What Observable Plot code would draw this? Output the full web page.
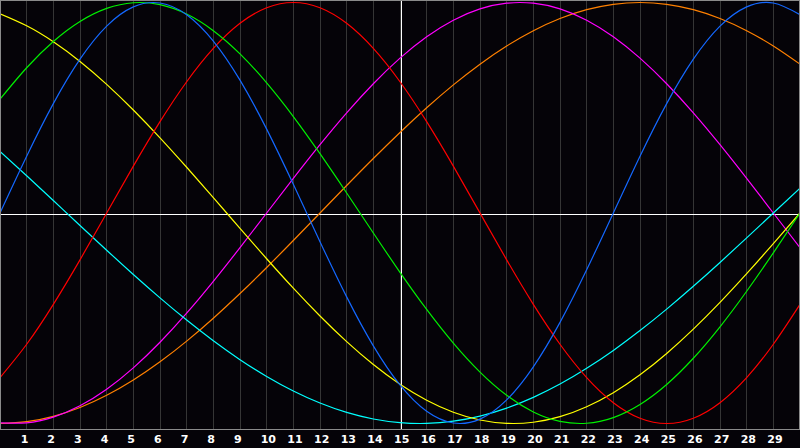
<!DOCTYPE html>
<html>
<head>
<meta charset="utf-8">
<script src="https://cdn.jsdelivr.net/npm/d3@7"></script>
<script src="https://cdn.jsdelivr.net/npm/@observablehq/plot@0.6"></script>
<style>
  html, body { margin: 0; padding: 0; background: #050308; }
  #chart svg { display: block; }
</style>
</head>
<body>
<div id="chart"></div>
<script>
// Day index (0..30) across the chart
const days = [0,1,2,3,4,5,6,7,8,9,10,11,12,13,14,15,16,17,18,19,20,21,22,23,24,25,26,27,28,29,30];
// Tick labels along the bottom
const tickLabels = [1,2,3,4,5,6,7,8,9,10,11,12,13,14,15,16,17,18,19,20,21,22,23,24,25,26,27,28,29];

// Series values (range -1..1), one value per day
const physicalValues = [0,0.2698,0.5196,0.7308,0.8879,0.9791,0.9977,0.9423,0.8170,0.6310,0.3984,0.1362,-0.1362,-0.3984,-0.6310,-0.8170,-0.9423,-0.9977,-0.9791,-0.8879,-0.7308,-0.5196,-0.2698,0,0.2698,0.5196,0.7308,0.8879,0.9791,0.9977,0.9423];
const emotionalValues = [-0.7818,-0.6235,-0.4339,-0.2225,0,0.2225,0.4339,0.6235,0.7818,0.9010,0.9749,1,0.9749,0.9010,0.7818,0.6235,0.4339,0.2225,0,-0.2225,-0.4339,-0.6235,-0.7818,-0.9010,-0.9749,-1,-0.9749,-0.9010,-0.7818,-0.6235,-0.4339];
const intellectualValues = [0.5406,0.6901,0.8146,0.9096,0.9718,0.9989,0.9898,0.9450,0.8660,0.7557,0.6182,0.4582,0.2817,0.0951,-0.0951,-0.2817,-0.4582,-0.6182,-0.7557,-0.8660,-0.9450,-0.9898,-0.9989,-0.9718,-0.9096,-0.8146,-0.6901,-0.5406,-0.3717,-0.1893,0];
const aestheticValues = [0.9464,0.8893,0.8135,0.7200,0.6112,0.4894,0.3572,0.2174,0.0730,-0.0730,-0.2174,-0.3572,-0.4894,-0.6112,-0.7200,-0.8135,-0.8893,-0.9464,-0.9834,-0.9993,-0.9940,-0.9675,-0.9204,-0.8536,-0.7685,-0.6671,-0.5517,-0.4245,-0.2881,-0.1456,0];
const spiritualValues = [0.2920,0.1769,0.0592,-0.0592,-0.1769,-0.2920,-0.4031,-0.5085,-0.6068,-0.6966,-0.7765,-0.8456,-0.9028,-0.9473,-0.9786,-0.9960,-0.9996,-0.9890,-0.9646,-0.9267,-0.8757,-0.8127,-0.7378,-0.6528,-0.5585,-0.4566,-0.3482,-0.2349,-0.1183,0,0.1183];
const intuitiveValues = [-0.9966,-0.9966,-0.9694,-0.9158,-0.8372,-0.7357,-0.6142,-0.4759,-0.3247,-0.1646,0,0.1646,0.3247,0.4759,0.6142,0.7357,0.8372,0.9158,0.9694,0.9966,0.9966,0.9694,0.9158,0.8372,0.7357,0.6142,0.4759,0.3247,0.1646,0,-0.1646];
const awarenessValues = [-1,-0.9914,-0.9659,-0.9239,-0.8660,-0.7934,-0.7071,-0.6088,-0.5,-0.3827,-0.2588,-0.1305,0,0.1305,0.2588,0.3827,0.5,0.6088,0.7071,0.7934,0.8660,0.9239,0.9659,0.9914,1,0.9914,0.9659,0.9239,0.8660,0.7934,0.7071];

const seriesNames = ["Awareness","Intuitive","Spiritual","Aesthetic","Emotional","Intellectual","Physical"];
const seriesValues = [awarenessValues, intuitiveValues, spiritualValues, aestheticValues, emotionalValues, intellectualValues, physicalValues];
const seriesColors = ["#ff8000","#ff00ff","#00ffff","#ffff00","#ff0000","#00f000","#1468ff"];

const rows = [];
seriesNames.forEach((name, si) => {
  days.forEach((d, i) => rows.push({series: name, day: d, value: seriesValues[si][i]}));
});

const chart = Plot.plot({
  width: 800,
  height: 448,
  marginTop: 0,
  marginBottom: 19,
  marginLeft: 0,
  marginRight: 0,
  style: {background: "#050308", overflow: "visible"},
  x: {domain: [0, 30], range: [-0.5, 799.5], axis: null},
  y: {domain: [-1, 1], range: [423, 2], axis: null},
  color: {type: "ordinal", domain: seriesNames, range: seriesColors},
  marks: [
    Plot.ruleX(tickLabels, {x: d => d, stroke: "#353535", strokeWidth: 1, shapeRendering: "crispEdges"}),
    Plot.ruleX([15], {x: d => d, stroke: "#ffffff", strokeWidth: 1, dx: 1.5, shapeRendering: "crispEdges"}),
    Plot.ruleY([0], {y: d => d, stroke: "#ffffff", strokeWidth: 1, dy: 1.5, shapeRendering: "crispEdges"}),
    Plot.line(rows, {x: "day", y: "value", z: "series", stroke: "series", strokeWidth: 1.2, curve: "natural"}),
    Plot.frame({stroke: "#8a8a8a", insetRight: 1, shapeRendering: "crispEdges"}),
    Plot.axisX(tickLabels, {
      tickSize: 0, tickPadding: 6, textAnchor: "start", dx: -6,
      fill: "#ffffff", fontSize: 11, fontWeight: "bold",
      fontFamily: "DejaVu Sans", label: null
    })
  ]
});
document.getElementById("chart").appendChild(chart);
</script>
</body>
</html>
